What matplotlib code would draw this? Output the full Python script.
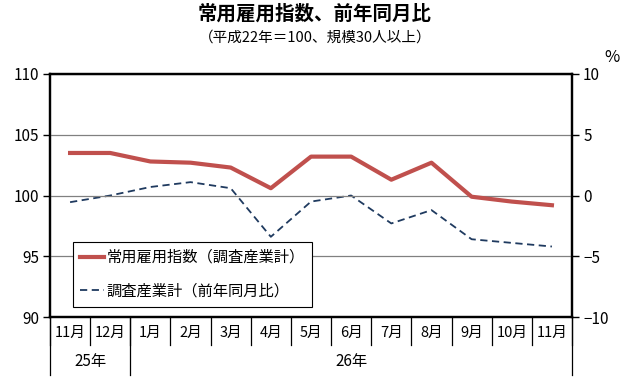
import matplotlib.pyplot as plt
import numpy as np

plt.rcParams['font.family'] = ['Noto Sans CJK JP', 'DejaVu Sans']

months = ["11月", "12月", "1月", "2月", "3月", "4月", "5月", "6月", "7月", "8月", "9月", "10月", "11月"]
years = ["25年", "26年"]
year_spans = [(0, 1), (2, 12)]
index_vals = [103.5, 103.5, 102.8, 102.7, 102.3, 100.6, 103.2, 103.2, 101.3, 102.7, 99.9, 99.5, 99.2]
yoy_vals = [-0.55, 0.0, 0.7, 1.1, 0.6, -3.4, -0.5, 0.0, -2.3, -1.2, -3.6, -3.9, -4.2]

fig = plt.figure(figsize=(6.3, 3.8), dpi=100)
ax = fig.add_axes([50/630, 1 - 317/380, 522/630, 243/380])
ax2 = ax.twinx()

x = np.arange(len(months))
ax.set_xlim(-0.5, len(months) - 0.5)
ax.set_ylim(90, 110)
ax.set_yticks([90, 95, 100, 105, 110])
ax2.set_ylim(-10, 10)
ax2.set_yticks([-10, -5, 0, 5, 10])
ax2.set_yticklabels(["−10", "−5", "0", "5", "10"])
for a in (ax, ax2):
    a.tick_params(axis="y", length=5, width=1, labelsize=11, pad=3)
    for s in a.spines.values():
        s.set_linewidth(1.6)
ax.set_xticks([])
ax.grid(True, axis="y", color="#808080", linewidth=0.9)
ax.set_axisbelow(True)

l1, = ax.plot(x, index_vals, color="#c0504d", linewidth=3, label="常用雇用指数（調査産業計）", zorder=3)
l2, = ax2.plot(x, yoy_vals, color="#1f3a5f", linewidth=1.3, dashes=(4, 2.5), label="調査産業計（前年同月比）", zorder=3)

leg = ax.legend(handles=[l1, l2], loc="upper left", bbox_to_anchor=(23/522, 75/243), fontsize=11,
                frameon=True, fancybox=False, framealpha=1, edgecolor="black", borderpad=0.45,
                labelspacing=1.1, handlelength=1.6, handletextpad=0.15, borderaxespad=0)
leg.get_frame().set_linewidth(0.8)
ax.set_zorder(ax2.get_zorder() + 1)
ax.patch.set_visible(False)
ax2.set_facecolor("#efefef")

# category axis below the plot
tr = ax.get_xaxis_transform()
for i, m in enumerate(months):
    ax.text(i, -0.065, m, transform=tr, ha="center", va="center", fontsize=10.5, clip_on=False)
for b in np.arange(-0.5, len(months), 1):
    ax.plot([b, b], [0, -0.115], transform=tr, color="black", linewidth=0.9, clip_on=False)
for b in [-0.5, 1.5, 12.5]:
    ax.plot([b, b], [0, -0.24], transform=tr, color="black", linewidth=0.9, clip_on=False)
for (s, e), yl in zip(year_spans, years):
    ax.text((s + e) / 2, -0.185, yl, transform=tr, ha="center", va="center", fontsize=11, clip_on=False)

fig.text(0.5, 1 - 14/380, "常用雇用指数、前年同月比", ha="center", va="center", fontsize=14, fontweight="bold")
fig.text(0.5, 1 - 38/380, "（平成22年＝100、規模30人以上）", ha="center", va="center", fontsize=10.5)
fig.text(612/630, 1 - 58/380, "%", ha="center", va="center", fontsize=12)

fig.savefig("out.png", dpi=100)
